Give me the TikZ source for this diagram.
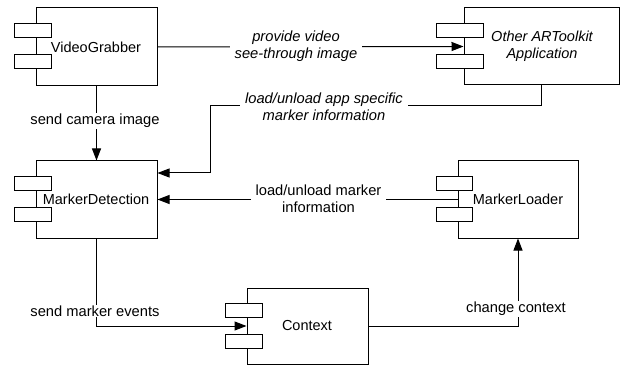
\documentclass[tikz,border=0pt]{standalone}
\usepackage{fontspec}
\setmainfont{Liberation Sans}
\usetikzlibrary{arrows.meta}
\begin{document}
\begin{tikzpicture}[x=1pt,y=-1pt,
  comp/.style={draw, line width=1pt, fill=white, inner sep=0pt},
  tab/.style={draw, line width=1pt, fill=white, minimum height=14pt, inner sep=0pt},
  cname/.style={font=\fontsize{14.5}{17}\selectfont},
  conn/.style={line width=1pt},
  arr/.style={conn, -{Triangle[length=12pt,width=9pt]}},
  lab/.style={fill=white, inner xsep=5pt, inner ysep=1pt, align=center, font=\fontsize{14.7}{17}\selectfont},
  ilab/.style={lab, font=\fontsize{14.7}{17}\selectfont\itshape}]
\useasboundingbox (0,0) rectangle (621,366);
% components
\node[comp, minimum width=121pt, minimum height=78pt] (vg) at (96.5,47) {};
\node[tab, minimum width=37pt] (vgt1) at (32.5,31) {};
\node[tab, minimum width=37pt] (vgt2) at (32.5,62) {};
\node[cname] (vgl) at (96,47) {VideoGrabber};

\node[comp, minimum width=155pt, minimum height=77pt] (oa) at (541.5,46.5) {};
\node[tab, minimum width=47pt] (oat1) at (459.5,31) {};
\node[tab, minimum width=47pt] (oat2) at (459.5,61.5) {};
\node[align=center, font=\fontsize{14.5}{17}\selectfont\itshape] (oal) at (542,46) {Other ARToolkit\\Application};

\node[comp, minimum width=121pt, minimum height=77pt] (md) at (96.5,199.5) {};
\node[tab, minimum width=37pt] (mdt1) at (32.5,184) {};
\node[tab, minimum width=37pt] (mdt2) at (32.5,214.5) {};
\node[cname] (mdl) at (96,199) {MarkerDetection};

\node[comp, minimum width=120pt, minimum height=77pt] (ml) at (518,199.5) {};
\node[tab, minimum width=36pt] (mlt1) at (454,184) {};
\node[tab, minimum width=36pt] (mlt2) at (454,214.5) {};
\node[cname] (mll) at (518,199) {MarkerLoader};

\node[comp, minimum width=121pt, minimum height=76pt] (ctx) at (307.5,326) {};
\node[tab, minimum width=37pt] (ctxt1) at (243.5,310.5) {};
\node[tab, minimum width=37pt] (ctxt2) at (243.5,341.5) {};
\node[cname] (ctxl) at (307,326) {Context};

% connectors
\draw[arr] (vg.east) -- (oa.west);
\node[ilab] (l1) at (296,46) {provide video\\see-through image};

\coordinate (c1) at (210,106);
\draw[arr] (oa.south) |- (c1) |- ([yshift=26.5pt]md.east);
\node[ilab] (l2) at (324,106.5) {load/unload app specific\\marker information};

\draw[arr] (ml.west) -- (md.east);
\node[lab] (l3) at (318.5,199) {load/unload marker\\information};

\draw[arr] (vg.south) -- (md.north);
\node[lab] (l4) at (95,121) {send camera image};

\draw[arr] (md.south) |- (ctx.west);
\node[lab] (l5) at (95,311) {send marker events};

\draw[arr] (ctx.east) -| (ml.south);
\node[lab] (l6) at (516,309) {change context};
\end{tikzpicture}
\end{document}
